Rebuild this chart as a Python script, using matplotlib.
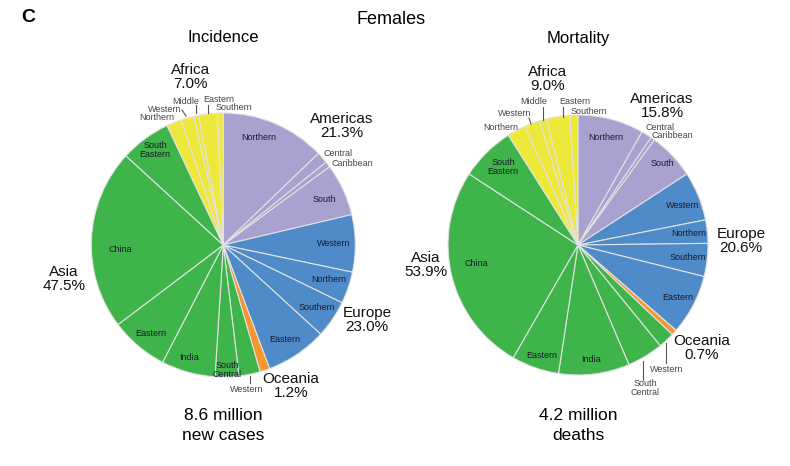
import matplotlib.pyplot as plt

plt.rcParams['font.family'] = ['Liberation Sans', 'DejaVu Sans']

# region totals (% of all female cases / deaths)
regions = ["Americas", "Europe", "Oceania", "Asia", "Africa"]
inc_region_pct = [21.3, 23.0, 1.2, 47.5, 7.0]
mort_region_pct = [15.8, 20.6, 0.7, 53.9, 9.0]

# sub-regions, clockwise from 12 o'clock
sub_region = ["Americas"] * 4 + ["Europe"] * 4 + ["Oceania"] + ["Asia"] * 6 + ["Africa"] * 5
sub_names = ["Northern", "Central", "Caribbean", "South",
             "Western", "Northern", "Southern", "Eastern",
             "",
             "Western", "South\nCentral", "India", "Eastern", "China", "South\nEastern",
             "Northern", "Western", "Middle", "Eastern", "Southern"]
inc_sub = [12.8, 1.4, 0.7, 6.4,
           7.0, 3.9, 4.6, 7.5,
           1.2,
           2.6, 2.9, 6.6, 7.1, 22.1, 6.2,
           1.8, 1.6, 0.6, 2.3, 0.7]
mort_sub = [8.2, 1.3, 0.5, 5.8,
            6.1, 2.9, 4.1, 7.5,
            0.7,
            2.0, 4.5, 8.8, 5.9, 25.9, 6.8,
            2.3, 1.9, 0.9, 2.9, 1.0]

region_colors = {"Americas": "#a9a1d0", "Europe": "#508bc9", "Oceania": "#f7952f",
                 "Asia": "#3fb44b", "Africa": "#eee83a"}

W, H = 790, 466


def P(x, y):
    # pixel (top-left origin) -> axes data coords
    return x, H - y


# layout: pie centres / radii and label positions in pixels
pies = [
    dict(values=inc_sub, totals=inc_region_pct, center=(223.3, 245), radius=132,
         heading="Incidence", foot=("8.6 million", "new cases"),
         inner=[(259, 138, 'center'), (323, 154, 'left'), (331, 163, 'left'), (324, 200, 'center'),
                (334, 244, 'center'), (329, 279, 'center'), (317, 308, 'center'), (285, 340, 'center'),
                None,
                (247, 389, 'center'), (227, 370, 'center'), (189, 357, 'center'), (151, 333, 'center'),
                (120, 249, 'center'), (155, 150, 'center'),
                (174, 117, 'right'), (181, 109, 'right'), (185.5, 101, 'center'), (218.5, 100, 'center'),
                (234, 108, 'center')],
         grey=[1, 2, 9, 15, 16, 17, 18, 19],
         big={"Americas": (342, 119), "Europe": (367, 313), "Oceania": (291, 379),
              "Asia": (64, 272), "Africa": (191, 70)},
         leaders=[((250, 376), (250, 383)), ((196, 105), (196, 113)), ((208, 105), (208, 113)),
                  ((182, 110), (186, 116))]),
    dict(values=mort_sub, totals=mort_region_pct, center=(578, 245), radius=130,
         heading="Mortality", foot=("4.2 million", "deaths"),
         inner=[(606, 137, 'center'), (645, 128, 'left'), (652, 136, 'left'), (662, 163, 'center'),
                (683, 205, 'center'), (689, 233, 'center'), (688, 257, 'center'), (678, 297, 'center'),
                None,
                (667, 369, 'center'), (645, 388, 'center'), (591, 360, 'center'), (542, 355, 'center'),
                (476, 263, 'center'), (503, 167, 'center'),
                (518, 127, 'right'), (531, 114, 'right'), (534, 102, 'center'), (574.5, 102, 'center'),
                (589, 111, 'center')],
         grey=[1, 2, 9, 10, 15, 16, 17, 18, 19],
         big={"Americas": (662, 99), "Europe": (741, 234), "Oceania": (702, 341),
              "Asia": (426, 258), "Africa": (548, 72)},
         leaders=[((666, 343), (666, 363)), ((643, 361), (643, 380)), ((543, 107), (543, 120)),
                  ((563, 107), (563, 117)), ((529, 118), (531, 124))]),
]

fig = plt.figure(figsize=(W / 100, H / 100), dpi=100)
ax = fig.add_axes([0, 0, 1, 1])

for p in pies:
    cx, cy = P(*p["center"])
    ax.pie(p["values"], colors=[region_colors[r] for r in sub_region],
           startangle=90, counterclock=False, center=(cx, cy), radius=p["radius"],
           wedgeprops=dict(edgecolor="#e2e2e2", linewidth=0.8))

    # small sub-region labels (thin slices labelled outside in grey)
    for i, name in enumerate(sub_names):
        pos = p["inner"][i]
        if pos is None or not name:
            continue
        x, y, ha = pos
        ax.text(*P(x, y), name, fontsize=6.5, ha=ha, va='center', linespacing=1.0,
                color="#444444" if i in p["grey"] else "#1a1a2a")

    # region name + share
    for r, pct in zip(regions, p["totals"]):
        x, y = p["big"][r]
        ax.text(*P(x, y), r, fontsize=11, ha='center', va='center', color="#111111")
        ax.text(*P(x, y + 14), f"{pct:.1f}%", fontsize=11, ha='center', va='center', color="#111111")

    for (x0, y0), (x1, y1) in p["leaders"]:
        ax.plot(*zip(P(x0, y0), P(x1, y1)), color="#555555", linewidth=0.8)

    hx = p["center"][0]
    ax.text(*P(hx, 38), p["heading"], fontsize=12, ha='center', va='center')
    ax.text(*P(hx, 415), p["foot"][0], fontsize=12.5, ha='center', va='center')
    ax.text(*P(hx, 436), p["foot"][1], fontsize=12.5, ha='center', va='center')

ax.text(*P(28, 18), "C", fontsize=14, fontweight='bold', ha='center', va='center')
ax.text(*P(391, 19), "Females", fontsize=13, ha='center', va='center')

ax.set_xlim(0, W)
ax.set_ylim(0, H)
ax.set_aspect('equal')
ax.axis('off')

fig.savefig("out.png", dpi=100)
